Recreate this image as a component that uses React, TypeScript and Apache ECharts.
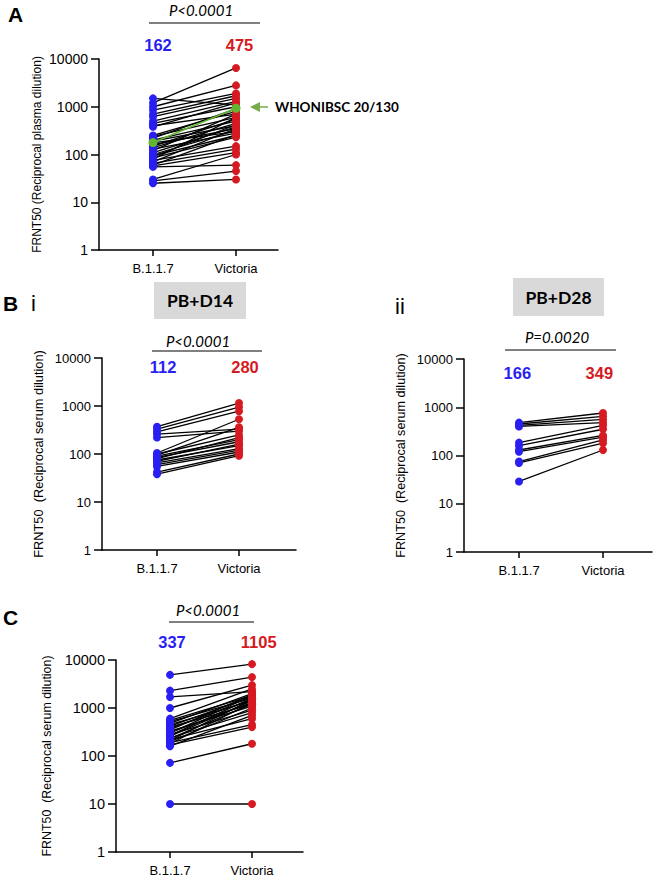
import React, { useEffect, useRef } from "react";
import * as echarts from "echarts";

// ---------- data ----------
const categories = ["B.1.1.7", "Victoria"];
const yTicks = [1, 10, 100, 1000, 10000];

// Panel A (plasma)
const aB117 = [1200, 1500, 1000, 850, 700, 620, 500, 450, 400, 380, 250, 240, 220, 200, 190, 175, 160, 150, 140, 130, 120, 110, 100, 95, 90, 85, 80, 75, 70, 65, 60, 58, 55, 30, 28, 25];
const aVictoria = [6500, 1100, 2800, 1900, 1700, 1500, 1300, 1000, 700, 1200, 800, 600, 900, 500, 400, 300, 350, 550, 450, 280, 700, 380, 320, 250, 420, 230, 600, 150, 350, 130, 260, 110, 60, 100, 45, 30];
const aWhoStandard = [178, 930];
const aMeans = ["162", "475"];

// Panel B i (PB+D14)
const biB117 = [370, 330, 290, 260, 220, 105, 100, 95, 90, 85, 80, 75, 70, 65, 60, 55, 42, 38];
const biVictoria = [1150, 950, 780, 330, 300, 530, 250, 360, 200, 180, 220, 150, 160, 130, 120, 110, 100, 92];
const biMeans = ["112", "280"];

// Panel B ii (PB+D28)
const biiB117 = [480, 450, 420, 400, 185, 160, 130, 120, 75, 70, 29];
const biiVictoria = [760, 650, 560, 480, 420, 350, 260, 240, 210, 180, 130];
const biiMeans = ["166", "349"];

// Panel C
const cB117 = [4900, 2300, 1700, 1000, 600, 550, 520, 480, 450, 420, 400, 380, 350, 330, 310, 300, 280, 270, 260, 240, 230, 220, 210, 200, 190, 180, 170, 160, 72, 10];
const cVictoria = [8200, 4400, 2200, 3000, 2500, 1800, 1600, 2000, 1400, 1700, 1200, 1500, 1900, 1100, 1300, 1800, 900, 1600, 1400, 800, 1200, 600, 1500, 1000, 450, 1300, 400, 700, 180, 10];
const cMeans = ["337", "1105"];

const pValues = ["P<0.0001", "P<0.0001", "P=0.0020", "P<0.0001"];
const yNames = [
  "FRNT50 (Reciprocal plasma dilution)",
  "FRNT50  (Reciprocal serum dilution)",
  "FRNT50  (Reciprocal serum dilution)",
  "FRNT50  (Reciprocal serum dilution)",
];

// ---------- style ----------
const BLUE = "#2a1ff2";
const RED = "#d61a22";
const GREEN = "#62b530";
const ARROW = "#76ad4a";
const SANS = "'Liberation Sans', Arial, sans-serif";
const CAL = "Lato, 'Open Sans', sans-serif";

type Panel = {
  b: number[];
  v: number[];
  means: string[];
  grid: { left: number; top: number; width: number; height: number };
  xmin: number;
  xmax: number;
  tickFont: number;
  nameFont: number;
  nameGap: number;
};

const panels: Panel[] = [
  { b: aB117, v: aVictoria, means: aMeans, grid: { left: 99, top: 59, width: 179, height: 191 }, xmin: -0.651, xmax: 1.506, tickFont: 14, nameFont: 12, nameGap: 62 },
  { b: biB117, v: biVictoria, means: biMeans, grid: { left: 102, top: 358, width: 194, height: 192 }, xmin: -0.671, xmax: 1.695, tickFont: 13, nameFont: 12.8, nameGap: 64 },
  { b: biiB117, v: biiVictoria, means: biiMeans, grid: { left: 464, top: 359, width: 188, height: 193 }, xmin: -0.655, xmax: 1.583, tickFont: 13, nameFont: 12.6, nameGap: 63 },
  { b: cB117, v: cVictoria, means: cMeans, grid: { left: 116, top: 660, width: 187, height: 192 }, xmin: -0.659, xmax: 1.622, tickFont: 14.5, nameFont: 12.4, nameGap: 69 },
];

function buildOption() {
  const grids = panels.map((p) => ({ ...p.grid, containLabel: false }));
  const xAxes = panels.map((p, i) => ({
    type: "value",
    gridIndex: i,
    min: p.xmin,
    max: p.xmax,
    splitLine: { show: false },
    axisLine: { show: true, onZero: false, lineStyle: { color: "#000", width: 1.5 } },
    axisTick: { show: true, customValues: [0, 1], length: 6, lineStyle: { color: "#000", width: 1.5 } },
    axisLabel: {
      customValues: [0, 1],
      formatter: (v: number) => categories[Math.round(v)] ?? "",
      color: "#000",
      fontFamily: SANS,
      fontSize: 13,
      margin: 12,
    },
  }));
  const yAxes = panels.map((p, i) => ({
    type: "log",
    logBase: 10,
    gridIndex: i,
    min: yTicks[0],
    max: yTicks[yTicks.length - 1],
    splitNumber: 4,
    splitLine: { show: false },
    axisLine: { show: true, onZero: false, lineStyle: { color: "#000", width: 1.5 } },
    axisTick: { show: true, length: 8, lineStyle: { color: "#000", width: 1.5 } },
    minorTick: { show: false },
    axisLabel: {
      formatter: (v: number) => String(Math.round(v)),
      color: "#000",
      fontFamily: SANS,
      fontSize: p.tickFont,
      margin: 11,
    },
    name: yNames[i],
    nameLocation: "middle",
    nameRotate: 90,
    nameGap: p.nameGap,
    nameTextStyle: { color: "#000", fontFamily: SANS, fontSize: p.nameFont, verticalAlign: "middle", align: "center" },
  }));

  const series: any[] = [];
  panels.forEach((p, i) => {
    p.b.forEach((bv, k) => {
      series.push({
        type: "line",
        xAxisIndex: i,
        yAxisIndex: i,
        data: [[0, bv], [1, p.v[k]]],
        symbol: "none",
        silent: true,
        lineStyle: { color: "#000", width: 1.3 },
        z: 2,
      });
    });
    series.push({
      type: "scatter",
      xAxisIndex: i,
      yAxisIndex: i,
      data: p.b.map((bv) => [0, bv]),
      symbolSize: 8,
      itemStyle: { color: BLUE, opacity: 1 },
      silent: true,
      z: 3,
    });
    series.push({
      type: "scatter",
      xAxisIndex: i,
      yAxisIndex: i,
      data: p.v.map((vv) => [1, vv]),
      symbolSize: 8,
      itemStyle: { color: RED, opacity: 1 },
      silent: true,
      z: 3,
    });
  });
  series.push({
    type: "line",
    xAxisIndex: 0,
    yAxisIndex: 0,
    data: [[0, aWhoStandard[0]], [1, aWhoStandard[1]]],
    symbol: "circle",
    symbolSize: 9,
    itemStyle: { color: GREEN },
    lineStyle: { color: GREEN, width: 1.6 },
    silent: true,
    z: 5,
  });

  const txt = (x: number, y: number, text: string, style: any, align = "center") => ({
    type: "text",
    x,
    y,
    style: { text, textAlign: align, textVerticalAlign: "middle", fill: "#000", ...style },
  });
  const hline = (x1: number, x2: number, y: number) => ({
    type: "line",
    shape: { x1, y1: y, x2, y2: y },
    style: { stroke: "#000", lineWidth: 1 },
  });
  const bold = (size: number, fill: string) => ({ font: `bold ${size}px ${SANS}`, fill });
  const pStyle = { font: `italic 15px ${CAL}`, fill: "#000" };

  const graphic: any[] = [
    // Panel letters
    txt(8, 14, "A", { font: `bold 21px ${SANS}` }, "left"),
    txt(3, 303, "B", { font: `bold 21px ${SANS}` }, "left"),
    txt(31, 303, "i", { font: `22px ${SANS}` }, "left"),
    txt(395, 306, "ii", { font: `22px ${SANS}` }, "left"),
    txt(3, 617, "C", { font: `bold 21px ${SANS}` }, "left"),
    // P values and bars
    txt(201, 10, pValues[0], pStyle),
    hline(149, 260, 23),
    txt(198, 341, pValues[1], pStyle),
    hline(152, 262, 351),
    txt(557, 337, pValues[2], pStyle),
    hline(505, 616, 350),
    txt(208, 610, pValues[3], pStyle),
    hline(169, 254, 622),
    // Means
    txt(158, 45, aMeans[0], bold(16.5, BLUE)),
    txt(239.5, 45, aMeans[1], bold(16.5, RED)),
    txt(163, 367, biMeans[0], bold(16.5, BLUE)),
    txt(245, 367, biMeans[1], bold(16.5, RED)),
    txt(517.3, 373, biiMeans[0], bold(16.5, BLUE)),
    txt(599.3, 373, biiMeans[1], bold(16.5, RED)),
    txt(172, 642, cMeans[0], bold(16.5, BLUE)),
    txt(258.7, 642, cMeans[1], bold(16.5, RED)),
    // Grey boxes
    { type: "rect", shape: { x: 154, y: 282, width: 92, height: 37 }, style: { fill: "#d9d9d9" } },
    txt(200, 300.5, "PB+D14", { font: `bold 17.5px ${CAL}` }),
    { type: "rect", shape: { x: 513, y: 278, width: 91, height: 38 }, style: { fill: "#d9d9d9" } },
    txt(558.5, 297, "PB+D28", { font: `bold 17.5px ${CAL}` }),
    // WHO arrow
    { type: "polygon", shape: { points: [[250, 107], [260, 102], [260, 112]] }, style: { fill: ARROW } },
    { type: "line", shape: { x1: 258, y1: 107, x2: 268, y2: 107 }, style: { stroke: ARROW, lineWidth: 1.5 } },
    txt(275, 107, "WHONIBSC 20/130", { font: `bold 13.5px ${CAL}` }, "left"),
  ];

  return {
    animation: false,
    backgroundColor: "#fff",
    grid: grids,
    xAxis: xAxes,
    yAxis: yAxes,
    series,
    graphic,
  };
}

export default function App() {
  const ref = useRef<HTMLDivElement>(null);
  useEffect(() => {
    if (!ref.current) return;
    const chart = echarts.init(ref.current, undefined, { renderer: "svg" });
    chart.setOption(buildOption() as any);
    return () => chart.dispose();
  }, []);
  return (
    <div
      ref={ref}
      style={{ position: "absolute", left: 0, top: 0, width: 660, height: 879, background: "#fff" }}
    />
  );
}
